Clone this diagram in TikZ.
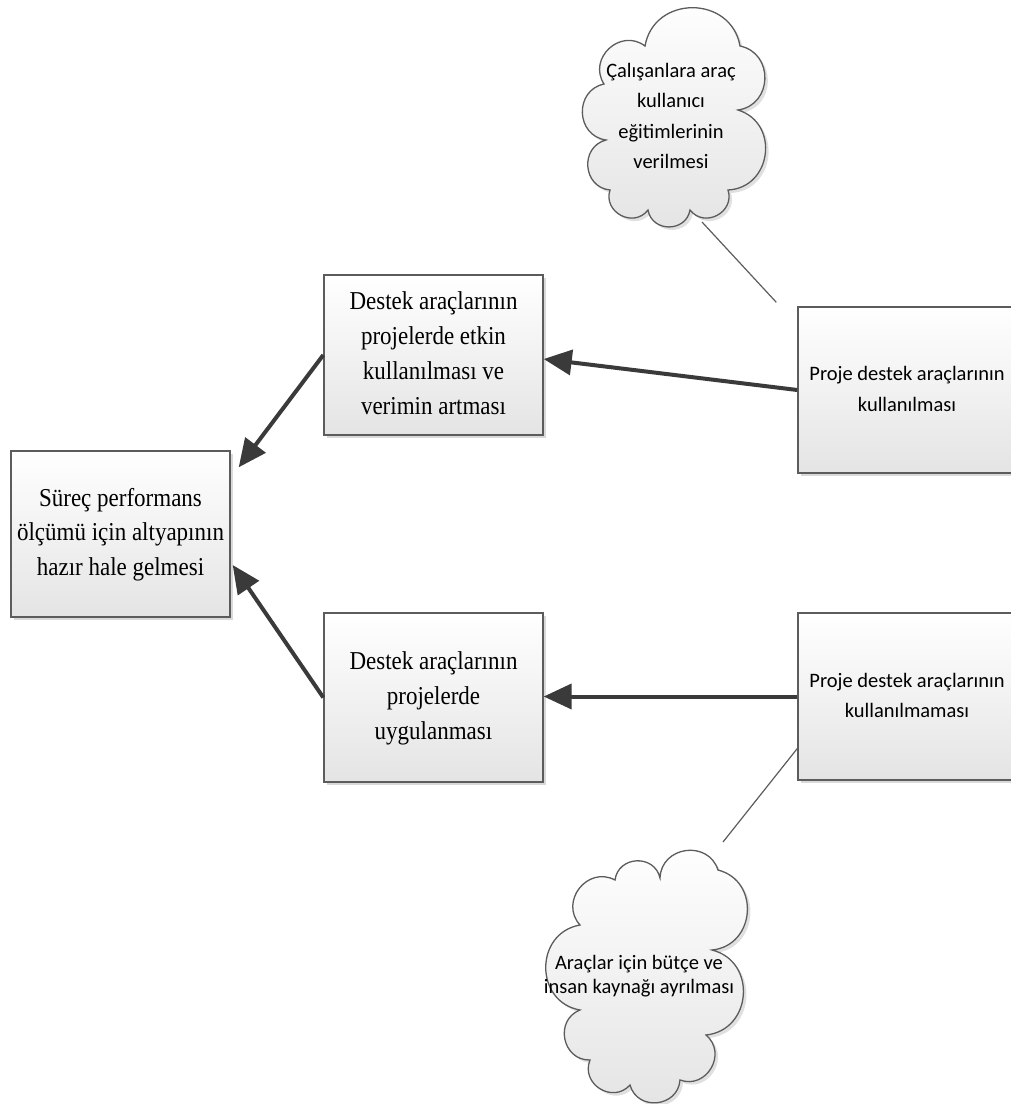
\documentclass[tikz,border=0pt]{standalone}
\usepackage{fontspec}
\usepackage{graphicx}
\setmainfont{Liberation Serif}
\newfontfamily\calibrifont{Carlito}
\usetikzlibrary{arrows.meta,shadows,calc}

\definecolor{edge}{HTML}{5C5C5C}
\definecolor{arrowc}{HTML}{3A3A3A}
\definecolor{fillbot}{HTML}{E4E4E4}

% centred multi-line text, slightly stretched vertically
\newcommand{\tallcell}[2][1.12]{\scalebox{1}[#1]{\begin{tabular}{@{}c@{}}#2\end{tabular}}}

\tikzset{
  box/.style={rectangle, draw=edge, line width=1.4pt, inner sep=0pt,
    top color=white, bottom color=fillbot,
    drop shadow={shadow xshift=3pt, shadow yshift=-3pt, fill=black, opacity=0.15}},
  serif/.style={font=\fontsize{23}{31}\selectfont},
  sans/.style={font=\calibrifont\fontsize{20.5}{30.5}\selectfont},
  flow/.style={draw=arrowc, line width=4pt, -{Triangle[length=28pt,width=25pt]}},
  tie/.style={draw=edge, line width=1.2pt},
  puffy/.style={draw=edge, line width=1.3pt, top color=white, bottom color=fillbot,
    drop shadow={shadow xshift=3pt, shadow yshift=-3pt, fill=black, opacity=0.12}},
  bump/.style={bend left=80, looseness=1.4}
}

\begin{document}
\begin{tikzpicture}[x=1pt, y=-1pt]
\useasboundingbox (0,0) rectangle (1011,1104);

% boxes
\node[box, serif, minimum width=219pt, minimum height=166pt] (goal) at (120.5,534)
  {\tallcell{Süreç performans\\ölçümü için altyapının\\hazır hale gelmesi}};
\node[box, serif, minimum width=219pt, minimum height=160pt] (eff) at (433.5,355)
  {\tallcell{Destek araçlarının\\projelerde etkin\\kullanılması ve\\verimin artması}};
\node[box, serif, minimum width=219pt, minimum height=169pt] (app) at (433.5,697.5)
  {\tallcell{Destek araçlarının\\projelerde\\uygulanması}};
% the two right-hand boxes run past the right margin
\node[box, sans, minimum width=228pt, minimum height=166pt] (use) at (912,390)
  {\tallcell[1]{Proje destek araçlarının\\kullanılması}\kern10pt};
\node[box, sans, minimum width=228pt, minimum height=167pt] (nouse) at (912,696.5)
  {\tallcell[1]{Proje destek araçlarının\\kullanılmaması}\kern10pt};

% clouds
\path[puffy] (645,46) to[bump] (740,46) to[bump] (738,110) to[bump] (728,190)
  to[bump] (690,210) to[bump] (648,210) to[bump] (610,190) to[bump] (606,140)
  to[bump] (604,84) to[bump] cycle;
\node[sans, align=center] (train) at (671,117)
  {\tallcell[1]{Çalışanlara araç\\kullanıcı\\eğitimlerinin\\verilmesi}};

\path[puffy] (660,878) to[bump] (718,870) to[bump] (712,950) to[bump] (706,1035)
  to[bump] (680,1080) to[bump] (630,1085) to[bump] (590,1060) to[bump] (580,1010)
  to[bump] (580,925) to[bump] (615,880) to[bump] cycle;
\node[sans, align=center, font=\calibrifont\fontsize{20.5}{24}\selectfont] (budget) at (639,977)
  {\tallcell[1]{Araçlar için bütçe ve\\insan kaynağı ayrılması}};

\coordinate (trainfoot) at (702,222);
\coordinate (budgettop) at (723,842);

% connectors
\draw[flow] (use.west) -- ($(eff.east)+(0,4)$);
\draw[flow] (nouse.west) -- (nouse.west -| app.east);
\draw[flow] (eff.west) -- ($(goal.north east)+(8,17)$);
\draw[flow] (app.west) -- ($(goal.east)+(2,31)$);
\draw[tie] (trainfoot) -- ($(use.north west)+(-21,-4)$);
\draw[tie] ($(nouse.west)+(0,52)$) -- (budgettop);
\end{tikzpicture}
\end{document}
